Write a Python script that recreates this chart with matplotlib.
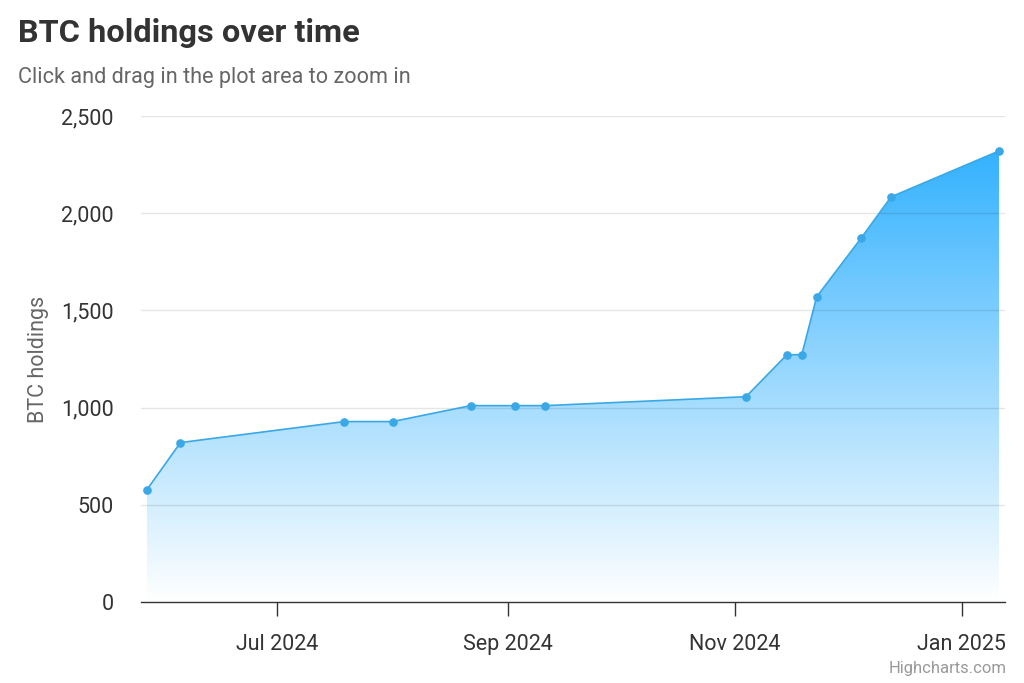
import matplotlib
matplotlib.use("Agg")
import matplotlib.pyplot as plt
import matplotlib.dates as mdates
from matplotlib.ticker import FuncFormatter, FixedLocator
import numpy as np
import datetime as dt

dates = ["2024-05-27", "2024-06-05", "2024-07-19", "2024-08-01", "2024-08-22",
         "2024-09-03", "2024-09-11", "2024-11-04", "2024-11-15", "2024-11-19",
         "2024-11-23", "2024-12-05", "2024-12-13", "2025-01-11"]
holdings = [578, 820, 928, 928, 1010, 1010, 1010, 1056, 1272, 1272, 1570, 1873, 2084, 2320]
tick_dates = ["2024-07-01", "2024-09-01", "2024-11-01", "2025-01-01"]
tick_labels = ["Jul 2024", "Sep 2024", "Nov 2024", "Jan 2025"]
y_ticks = [0, 500, 1000, 1500, 2000, 2500]

plt.rcParams['font.family'] = ['Roboto', 'DejaVu Sans']

x = mdates.date2num([dt.date.fromisoformat(d) for d in dates])
xt = mdates.date2num([dt.date.fromisoformat(d) for d in tick_dates])
y = np.array(holdings)

fig = plt.figure(figsize=(10.24, 6.83), dpi=100)
ax = fig.add_axes([0.1377, 0.1186, 0.8437, 0.7116])
xmin = x[0] - 1.6
xmax = x[-1] + 1.6

# gradient fill (series colour at top fading to white at the baseline)
top = np.array([45, 175, 254]) / 255.0
n = 256
frac = np.linspace(0, 1, n)[:, None]  # 0 bottom -> 1 top
rgba = np.ones((n, 2, 4))
rgba[..., :3] = (1 - frac[..., None]) * 1.0 + frac[..., None] * top
rgba[..., :3] = np.clip(rgba[..., :3], 0, 1)
im = ax.imshow(rgba, extent=[xmin, xmax, 0, 2400], origin='lower', aspect='auto', zorder=1)
clip = plt.Polygon(np.column_stack([np.r_[x, x[::-1]], np.r_[y, np.zeros_like(y)]]),
                   transform=ax.transData, facecolor='none', edgecolor='none')
ax.add_patch(clip)
im.set_clip_path(clip)
ax.set_ylim(0, 2500)
ax.set_xlim(xmin, xmax)

ax.plot(x, y, color='#3aa8e6', lw=1.2, marker='o', ms=5.2, mfc='#3aa8e6', mec='#3aa8e6', zorder=3)

# grid (semi-transparent so it shows through the fill)
ax.yaxis.set_major_locator(FixedLocator(y_ticks))
ax.yaxis.set_major_formatter(FuncFormatter(lambda v, p: f"{int(v):,}"))
for v in y_ticks[1:]:
    ax.axhline(v, color=(0, 0, 0, 0.1), lw=1.0, zorder=2)
for s in ['top', 'right', 'left']:
    ax.spines[s].set_visible(False)
ax.spines['bottom'].set_color('#333333')
ax.spines['bottom'].set_linewidth(1.0)
ax.spines['bottom'].set_zorder(4)

ax.set_xticks(xt)
ax.set_xticklabels(tick_labels)
ax.tick_params(axis='x', length=10, width=1, color='#333333', labelsize=15.5, labelcolor='#333333', pad=13)
ax.tick_params(axis='y', length=0, labelsize=15.5, labelcolor='#333333', pad=19.5)

ax.set_ylabel("BTC holdings", fontsize=15.5, color='#666666', labelpad=9)

fig.text(18 / 1024, 1 - 33 / 683, "BTC holdings over time", fontsize=23.4, fontweight='bold',
         color='#333333', va='center', ha='left')
fig.text(18 / 1024, 1 - 77 / 683, "Click and drag in the plot area to zoom in", fontsize=15.6,
         color='#666666', va='center', ha='left')
fig.text(1007 / 1024, 1 - 668 / 683, "Highcharts.com", fontsize=12, color='#999999',
         va='center', ha='right')

fig.savefig("out.png", dpi=100, facecolor='white')
